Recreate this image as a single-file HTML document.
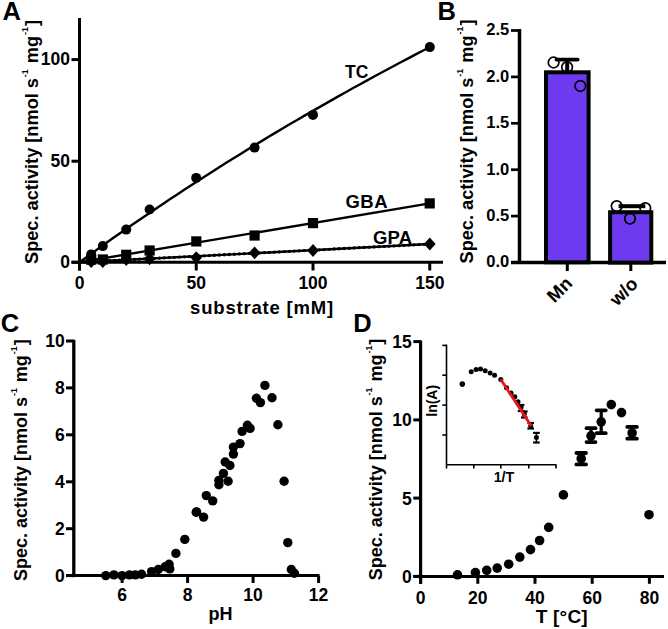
<!DOCTYPE html>
<html><head><meta charset="utf-8"><style>
html,body{margin:0;padding:0;background:#fff;width:668px;height:629px;overflow:hidden}
svg{display:block}
text{font-family:'Liberation Sans',sans-serif;font-weight:bold;fill:#000}
text.b{font-weight:bold;stroke:none}
</style></head><body>
<svg width="668" height="629" viewBox="0 0 668 629">
<rect width="668" height="629" fill="#fff"/>
<text class="b" x="2.6" y="19.5" style="font-size:25.5px">A</text>
<text transform="translate(38,142) rotate(-90)" text-anchor="middle" class="b" style="font-size:18.2px;letter-spacing:0px">Spec. activity [nmol s<tspan dy="-10" dx="0.9" style="font-size:9px">-1</tspan><tspan dy="10" dx="0.9"> mg</tspan><tspan dy="-10" dx="0.9" style="font-size:9px">-1</tspan><tspan dy="10" dx="0.9">]</tspan></text>
<line x1="79.5" y1="18" x2="79.5" y2="270.5" stroke="#000" stroke-width="3"/>
<line x1="71.5" y1="262.3" x2="443" y2="262.3" stroke="#000" stroke-width="3"/>
<line x1="71.5" y1="262.3" x2="79.5" y2="262.3" stroke="#000" stroke-width="3"/>
<text x="70" y="267.6" text-anchor="end" style="font-size:17.5px">0</text>
<line x1="71.5" y1="161.2" x2="79.5" y2="161.2" stroke="#000" stroke-width="3"/>
<text x="70" y="166.5" text-anchor="end" style="font-size:17.5px">50</text>
<line x1="71.5" y1="59.6" x2="79.5" y2="59.6" stroke="#000" stroke-width="3"/>
<text x="70" y="64.9" text-anchor="end" style="font-size:17.5px">100</text>
<line x1="79.5" y1="262.3" x2="79.5" y2="270.5" stroke="#000" stroke-width="3"/>
<text x="79.5" y="288.8" text-anchor="middle" style="font-size:17.5px">0</text>
<line x1="196.25" y1="262.3" x2="196.25" y2="270.5" stroke="#000" stroke-width="3"/>
<text x="196.2" y="288.8" text-anchor="middle" style="font-size:17.5px">50</text>
<line x1="313.0" y1="262.3" x2="313.0" y2="270.5" stroke="#000" stroke-width="3"/>
<text x="313.0" y="288.8" text-anchor="middle" style="font-size:17.5px">100</text>
<line x1="429.75" y1="262.3" x2="429.75" y2="270.5" stroke="#000" stroke-width="3"/>
<text x="429.8" y="288.8" text-anchor="middle" style="font-size:17.5px">150</text>
<text x="262" y="314" text-anchor="middle" style="font-size:18.5px;letter-spacing:0.8px">substrate [mM]</text>
<polyline points="79.5,262.3 86.5,257.2 93.5,252.1 100.5,247.1 107.5,242.1 114.5,237.1 121.5,232.2 128.5,227.3 135.5,222.5 142.5,217.7 149.6,212.9 156.6,208.2 163.6,203.5 170.6,198.8 177.6,194.2 184.6,189.6 191.6,185.0 198.6,180.4 205.6,175.9 212.6,171.5 219.6,167.0 226.6,162.6 233.6,158.3 240.6,153.9 247.6,149.6 254.6,145.3 261.6,141.1 268.6,136.8 275.6,132.6 282.6,128.5 289.6,124.3 296.7,120.2 303.7,116.1 310.7,112.1 317.7,108.1 324.7,104.1 331.7,100.1 338.7,96.1 345.7,92.2 352.7,88.3 359.7,84.5 366.7,80.6 373.7,76.8 380.7,73.0 387.7,69.3 394.7,65.5 401.7,61.8 408.7,58.1 415.7,54.4 422.7,50.8 429.8,47.2" fill="none" stroke="#000" stroke-width="2.4"/>
<line x1="79.5" y1="262.3" x2="429.75" y2="203.43" stroke="#000" stroke-width="2.4"/>
<line x1="79.5" y1="262.3" x2="429.75" y2="244.03" stroke="#000" stroke-width="2.4"/>
<line x1="79.5" y1="262.3" x2="429.75" y2="244.03" stroke="#000" stroke-width="3.3" stroke-linecap="round" stroke-dasharray="0 5"/>
<circle cx="91.2" cy="254.4" r="5" fill="#000"/>
<circle cx="102.8" cy="246.1" r="5" fill="#000"/>
<circle cx="126.2" cy="229.6" r="5" fill="#000"/>
<circle cx="149.6" cy="209.5" r="5" fill="#000"/>
<circle cx="196.2" cy="177.9" r="5" fill="#000"/>
<circle cx="254.6" cy="147.6" r="5" fill="#000"/>
<circle cx="313.0" cy="114.9" r="5" fill="#000"/>
<circle cx="429.8" cy="47.1" r="5" fill="#000"/>
<rect x="86.1" y="254.6" width="10.2" height="10.2" fill="#000"/>
<rect x="97.8" y="254.4" width="10.2" height="10.2" fill="#000"/>
<rect x="121.1" y="249.7" width="10.2" height="10.2" fill="#000"/>
<rect x="144.5" y="245.4" width="10.2" height="10.2" fill="#000"/>
<rect x="191.2" y="236.3" width="10.2" height="10.2" fill="#000"/>
<rect x="249.5" y="230.4" width="10.2" height="10.2" fill="#000"/>
<rect x="307.9" y="218.0" width="10.2" height="10.2" fill="#000"/>
<rect x="424.6" y="198.3" width="10.2" height="10.2" fill="#000"/>
<polygon points="91.2,255.3 97.0,261.7 91.2,268.1 85.4,261.7" fill="#000"/>
<polygon points="102.8,255.3 108.6,261.7 102.8,268.1 97.0,261.7" fill="#000"/>
<polygon points="126.2,253.1 132.0,259.5 126.2,265.9 120.4,259.5" fill="#000"/>
<polygon points="149.6,252.4 155.4,258.8 149.6,265.2 143.8,258.8" fill="#000"/>
<polygon points="196.2,251.2 202.1,257.6 196.2,264.0 190.4,257.6" fill="#000"/>
<polygon points="254.6,246.4 260.4,252.8 254.6,259.2 248.8,252.8" fill="#000"/>
<polygon points="313.0,244.1 318.8,250.5 313.0,256.9 307.2,250.5" fill="#000"/>
<polygon points="429.8,237.6 435.6,244.0 429.8,250.4 423.9,244.0" fill="#000"/>
<text x="345" y="77.5" style="font-size:17.5px;letter-spacing:0px">TC</text>
<text x="345.5" y="207.5" style="font-size:18.5px;letter-spacing:0.45px">GBA</text>
<text x="373" y="244" style="font-size:18.5px;letter-spacing:0.2px">GPA</text>
<text class="b" x="437.5" y="19.5" style="font-size:25.5px">B</text>
<text transform="translate(473,141.5) rotate(-90)" text-anchor="middle" class="b" style="font-size:18.2px;letter-spacing:0px">Spec. activity [nmol s<tspan dy="-10" dx="0.9" style="font-size:9px">-1</tspan><tspan dy="10" dx="0.9"> mg</tspan><tspan dy="-10" dx="0.9" style="font-size:9px">-1</tspan><tspan dy="10" dx="0.9">]</tspan></text>
<line x1="519.5" y1="29" x2="519.5" y2="262.5" stroke="#000" stroke-width="3.5"/>
<line x1="511" y1="262.5" x2="666" y2="262.5" stroke="#000" stroke-width="3.5"/>
<line x1="511" y1="262.5" x2="519.5" y2="262.5" stroke="#000" stroke-width="2.7"/>
<text x="509.2" y="267.4" text-anchor="end" style="font-size:16.5px">0.0</text>
<line x1="511" y1="216.1" x2="519.5" y2="216.1" stroke="#000" stroke-width="2.7"/>
<text x="509.2" y="221.0" text-anchor="end" style="font-size:16.5px">0.5</text>
<line x1="511" y1="169.7" x2="519.5" y2="169.7" stroke="#000" stroke-width="2.7"/>
<text x="509.2" y="174.6" text-anchor="end" style="font-size:16.5px">1.0</text>
<line x1="511" y1="123.3" x2="519.5" y2="123.3" stroke="#000" stroke-width="2.7"/>
<text x="509.2" y="128.2" text-anchor="end" style="font-size:16.5px">1.5</text>
<line x1="511" y1="76.9" x2="519.5" y2="76.9" stroke="#000" stroke-width="2.7"/>
<text x="509.2" y="81.8" text-anchor="end" style="font-size:16.5px">2.0</text>
<line x1="511" y1="30.5" x2="519.5" y2="30.5" stroke="#000" stroke-width="2.7"/>
<text x="509.2" y="35.4" text-anchor="end" style="font-size:16.5px">2.5</text>
<line x1="567.3" y1="262.5" x2="567.3" y2="271" stroke="#000" stroke-width="3"/>
<line x1="630.8" y1="262.5" x2="630.8" y2="271" stroke="#000" stroke-width="3"/>
<line x1="567.2" y1="60" x2="567.2" y2="72" stroke="#000" stroke-width="4"/>
<line x1="556.5" y1="59.6" x2="577.6" y2="59.6" stroke="#000" stroke-width="3.8" stroke-linecap="round"/>
<rect x="546" y="72.3" width="42.6" height="190" fill="#6d3af0" stroke="#000" stroke-width="4"/>
<circle cx="553.6" cy="62.5" r="5.3" fill="none" stroke="#000" stroke-width="1.7"/>
<circle cx="567.1" cy="67.2" r="5.3" fill="none" stroke="#000" stroke-width="1.7"/>
<circle cx="580.3" cy="86" r="5.3" fill="none" stroke="#000" stroke-width="1.7"/>
<line x1="618.6" y1="206.2" x2="645.3" y2="206.2" stroke="#000" stroke-width="4"/>
<rect x="610.1" y="212.2" width="41.2" height="50.4" fill="#6d3af0" stroke="#000" stroke-width="4"/>
<circle cx="616.7" cy="206.2" r="5.3" fill="none" stroke="#000" stroke-width="1.7"/>
<circle cx="645.3" cy="208.1" r="5.3" fill="none" stroke="#000" stroke-width="1.7"/>
<circle cx="630" cy="218.6" r="5.3" fill="none" stroke="#000" stroke-width="1.7"/>
<text transform="translate(573.5,284.5) rotate(-45)" text-anchor="end" style="font-size:18.5px">Mn</text>
<text transform="translate(639,285) rotate(-45)" text-anchor="end" style="font-size:18.5px">w/o</text>
<text class="b" x="0.8" y="332" style="font-size:25.5px">C</text>
<text transform="translate(27.2,460.2) rotate(-90)" text-anchor="middle" class="b" style="font-size:18.0px;letter-spacing:0px">Spec. activity [nmol s<tspan dy="-10" dx="0.9" style="font-size:9px">-1</tspan><tspan dy="10" dx="0.9"> mg</tspan><tspan dy="-10" dx="0.9" style="font-size:9px">-1</tspan><tspan dy="10" dx="0.9">]</tspan></text>
<line x1="73.8" y1="339.8" x2="73.8" y2="577.1" stroke="#000" stroke-width="3.3"/>
<line x1="66" y1="575.6" x2="319.5" y2="575.6" stroke="#000" stroke-width="3"/>
<line x1="66" y1="575.6" x2="73.8" y2="575.6" stroke="#000" stroke-width="3"/>
<text x="64.7" y="582.0" text-anchor="end" style="font-size:17.5px">0</text>
<line x1="66" y1="528.7" x2="73.8" y2="528.7" stroke="#000" stroke-width="3"/>
<text x="64.7" y="535.1" text-anchor="end" style="font-size:17.5px">2</text>
<line x1="66" y1="481.8" x2="73.8" y2="481.8" stroke="#000" stroke-width="3"/>
<text x="64.7" y="488.2" text-anchor="end" style="font-size:17.5px">4</text>
<line x1="66" y1="434.8" x2="73.8" y2="434.8" stroke="#000" stroke-width="3"/>
<text x="64.7" y="441.2" text-anchor="end" style="font-size:17.5px">6</text>
<line x1="66" y1="387.9" x2="73.8" y2="387.9" stroke="#000" stroke-width="3"/>
<text x="64.7" y="394.3" text-anchor="end" style="font-size:17.5px">8</text>
<line x1="66" y1="341.0" x2="73.8" y2="341.0" stroke="#000" stroke-width="3"/>
<text x="64.7" y="347.4" text-anchor="end" style="font-size:17.5px">10</text>
<line x1="122.1" y1="575.6" x2="122.1" y2="583" stroke="#000" stroke-width="3"/>
<text x="122.1" y="601" text-anchor="middle" style="font-size:17.5px">6</text>
<line x1="187.6" y1="575.6" x2="187.6" y2="583" stroke="#000" stroke-width="3"/>
<text x="187.6" y="601" text-anchor="middle" style="font-size:17.5px">8</text>
<line x1="253.1" y1="575.6" x2="253.1" y2="583" stroke="#000" stroke-width="3"/>
<text x="253.1" y="601" text-anchor="middle" style="font-size:17.5px">10</text>
<line x1="318.6" y1="575.6" x2="318.6" y2="583" stroke="#000" stroke-width="3"/>
<text x="318.6" y="601" text-anchor="middle" style="font-size:17.5px">12</text>
<text x="220.5" y="619.5" text-anchor="middle" style="font-size:18px">pH</text>
<circle cx="105.8" cy="575.6" r="4.7" fill="#000"/>
<circle cx="113.9" cy="574.9" r="4.7" fill="#000"/>
<circle cx="122" cy="575.6" r="4.7" fill="#000"/>
<circle cx="129.4" cy="574.9" r="4.7" fill="#000"/>
<circle cx="135.4" cy="574.9" r="4.7" fill="#000"/>
<circle cx="141.5" cy="574.3" r="4.7" fill="#000"/>
<circle cx="151.6" cy="571.6" r="4.7" fill="#000"/>
<circle cx="158.3" cy="569.5" r="4.7" fill="#000"/>
<circle cx="165.1" cy="566.8" r="4.7" fill="#000"/>
<circle cx="169.1" cy="564.2" r="4.7" fill="#000"/>
<circle cx="169.8" cy="568.9" r="4.7" fill="#000"/>
<circle cx="175.9" cy="553.4" r="4.7" fill="#000"/>
<circle cx="184.8" cy="539.4" r="4.7" fill="#000"/>
<circle cx="196.2" cy="512.3" r="4.7" fill="#000"/>
<circle cx="196.6" cy="511.9" r="4.7" fill="#000"/>
<circle cx="203.6" cy="517.1" r="4.7" fill="#000"/>
<circle cx="206.3" cy="495.6" r="4.7" fill="#000"/>
<circle cx="212.7" cy="500.9" r="4.7" fill="#000"/>
<circle cx="218.9" cy="480.4" r="4.7" fill="#000"/>
<circle cx="218.9" cy="484.8" r="4.7" fill="#000"/>
<circle cx="223.4" cy="473.4" r="4.7" fill="#000"/>
<circle cx="228.1" cy="481.3" r="4.7" fill="#000"/>
<circle cx="225.2" cy="462" r="4.7" fill="#000"/>
<circle cx="229.9" cy="465.5" r="4.7" fill="#000"/>
<circle cx="233.4" cy="447.1" r="4.7" fill="#000"/>
<circle cx="233.4" cy="454.1" r="4.7" fill="#000"/>
<circle cx="240" cy="443.6" r="4.7" fill="#000"/>
<circle cx="242.1" cy="431.4" r="4.7" fill="#000"/>
<circle cx="247.4" cy="425.3" r="4.7" fill="#000"/>
<circle cx="264.9" cy="385.4" r="4.7" fill="#000"/>
<circle cx="256.4" cy="398.2" r="4.7" fill="#000"/>
<circle cx="260.4" cy="402.6" r="4.7" fill="#000"/>
<circle cx="272" cy="397.7" r="4.7" fill="#000"/>
<circle cx="277.9" cy="424.7" r="4.7" fill="#000"/>
<circle cx="250.1" cy="428.4" r="4.7" fill="#000"/>
<circle cx="284.1" cy="481.3" r="4.7" fill="#000"/>
<circle cx="287.8" cy="542.6" r="4.7" fill="#000"/>
<circle cx="291.3" cy="569.5" r="4.7" fill="#000"/>
<circle cx="294.4" cy="573.2" r="4.7" fill="#000"/>
<text class="b" x="353.2" y="332.3" style="font-size:25.5px">D</text>
<text transform="translate(382,459.5) rotate(-90)" text-anchor="middle" class="b" style="font-size:18.0px;letter-spacing:0px">Spec. activity [nmol s<tspan dy="-10" dx="0.9" style="font-size:9px">-1</tspan><tspan dy="10" dx="0.9"> mg</tspan><tspan dy="-10" dx="0.9" style="font-size:9px">-1</tspan><tspan dy="10" dx="0.9">]</tspan></text>
<line x1="420.6" y1="340.5" x2="420.6" y2="583.8" stroke="#000" stroke-width="3.2"/>
<line x1="413.3" y1="576.4" x2="664" y2="576.4" stroke="#000" stroke-width="3"/>
<line x1="413.3" y1="576.4" x2="420.6" y2="576.4" stroke="#000" stroke-width="3"/>
<text x="411.7" y="582.8" text-anchor="end" style="font-size:17.5px">0</text>
<line x1="413.3" y1="498.1" x2="420.6" y2="498.1" stroke="#000" stroke-width="3"/>
<text x="411.7" y="504.5" text-anchor="end" style="font-size:17.5px">5</text>
<line x1="413.3" y1="419.9" x2="420.6" y2="419.9" stroke="#000" stroke-width="3"/>
<text x="411.7" y="426.3" text-anchor="end" style="font-size:17.5px">10</text>
<line x1="413.3" y1="341.6" x2="420.6" y2="341.6" stroke="#000" stroke-width="3"/>
<text x="411.7" y="348.0" text-anchor="end" style="font-size:17.5px">15</text>
<line x1="420.6" y1="576.4" x2="420.6" y2="583.8" stroke="#000" stroke-width="3"/>
<text x="420.6" y="603.8" text-anchor="middle" style="font-size:17.5px">0</text>
<line x1="477.8" y1="576.4" x2="477.8" y2="583.8" stroke="#000" stroke-width="3"/>
<text x="477.8" y="603.8" text-anchor="middle" style="font-size:17.5px">20</text>
<line x1="535.0" y1="576.4" x2="535.0" y2="583.8" stroke="#000" stroke-width="3"/>
<text x="535.0" y="603.8" text-anchor="middle" style="font-size:17.5px">40</text>
<line x1="592.2" y1="576.4" x2="592.2" y2="583.8" stroke="#000" stroke-width="3"/>
<text x="592.2" y="603.8" text-anchor="middle" style="font-size:17.5px">60</text>
<line x1="649.4" y1="576.4" x2="649.4" y2="583.8" stroke="#000" stroke-width="3"/>
<text x="649.4" y="603.8" text-anchor="middle" style="font-size:17.5px">80</text>
<text x="561.8" y="623" text-anchor="middle" style="font-size:19px;letter-spacing:0.2px">T [°C]</text>
<circle cx="457.5" cy="574.8" r="4.8" fill="#000"/>
<circle cx="475.4" cy="572.6" r="4.8" fill="#000"/>
<circle cx="486.7" cy="570.3" r="4.8" fill="#000"/>
<circle cx="497.2" cy="568.1" r="4.8" fill="#000"/>
<circle cx="508.7" cy="564.2" r="4.8" fill="#000"/>
<circle cx="519.8" cy="557.1" r="4.8" fill="#000"/>
<circle cx="530.5" cy="549.6" r="4.8" fill="#000"/>
<circle cx="539.6" cy="540.5" r="4.8" fill="#000"/>
<circle cx="548.7" cy="527.4" r="4.8" fill="#000"/>
<circle cx="563.4" cy="494.9" r="4.8" fill="#000"/>
<circle cx="581.2" cy="458.7" r="4.8" fill="#000"/>
<circle cx="591" cy="435.8" r="4.8" fill="#000"/>
<circle cx="601.2" cy="421.8" r="4.8" fill="#000"/>
<circle cx="611.3" cy="404.6" r="4.8" fill="#000"/>
<circle cx="621.5" cy="412.6" r="4.8" fill="#000"/>
<circle cx="632.1" cy="433" r="4.8" fill="#000"/>
<circle cx="649" cy="514.7" r="4.8" fill="#000"/>
<line x1="581.2" y1="453" x2="581.2" y2="464.4" stroke="#000" stroke-width="3.2"/>
<line x1="576.4000000000001" y1="453" x2="586.0" y2="453" stroke="#000" stroke-width="3.8" stroke-linecap="round"/>
<line x1="576.4000000000001" y1="464.4" x2="586.0" y2="464.4" stroke="#000" stroke-width="3.8" stroke-linecap="round"/>
<line x1="591" y1="428.2" x2="591" y2="442.1" stroke="#000" stroke-width="3.2"/>
<line x1="586.5" y1="428.2" x2="595.5" y2="428.2" stroke="#000" stroke-width="3.8" stroke-linecap="round"/>
<line x1="586.5" y1="442.1" x2="595.5" y2="442.1" stroke="#000" stroke-width="3.8" stroke-linecap="round"/>
<line x1="601.2" y1="410.3" x2="601.2" y2="433.2" stroke="#000" stroke-width="3.2"/>
<line x1="596.7" y1="410.3" x2="605.7" y2="410.3" stroke="#000" stroke-width="3.8" stroke-linecap="round"/>
<line x1="596.7" y1="433.2" x2="605.7" y2="433.2" stroke="#000" stroke-width="3.8" stroke-linecap="round"/>
<line x1="632.1" y1="426.9" x2="632.1" y2="438.7" stroke="#000" stroke-width="3.2"/>
<line x1="627.3000000000001" y1="426.9" x2="636.9" y2="426.9" stroke="#000" stroke-width="3.8" stroke-linecap="round"/>
<line x1="627.3000000000001" y1="438.7" x2="636.9" y2="438.7" stroke="#000" stroke-width="3.8" stroke-linecap="round"/>
<line x1="446.5" y1="344.6" x2="446.5" y2="464.7" stroke="#000" stroke-width="1.6"/>
<line x1="446.5" y1="464.7" x2="556.5" y2="464.7" stroke="#000" stroke-width="1.6"/>
<line x1="442.3" y1="345.4" x2="446.5" y2="345.4" stroke="#000" stroke-width="1.6"/>
<line x1="442.3" y1="375.2" x2="446.5" y2="375.2" stroke="#000" stroke-width="1.6"/>
<line x1="442.3" y1="405.1" x2="446.5" y2="405.1" stroke="#000" stroke-width="1.6"/>
<line x1="442.3" y1="435.0" x2="446.5" y2="435.0" stroke="#000" stroke-width="1.6"/>
<line x1="446.5" y1="464.7" x2="446.5" y2="468.5" stroke="#000" stroke-width="1.6"/>
<line x1="473.8" y1="464.7" x2="473.8" y2="468.5" stroke="#000" stroke-width="1.6"/>
<line x1="500.8" y1="464.7" x2="500.8" y2="468.5" stroke="#000" stroke-width="1.6"/>
<line x1="528.8" y1="464.7" x2="528.8" y2="468.5" stroke="#000" stroke-width="1.6"/>
<line x1="556" y1="464.7" x2="556" y2="468.5" stroke="#000" stroke-width="1.6"/>
<text x="504" y="482.3" text-anchor="middle" style="font-size:14.3px">1/T</text>
<text transform="translate(437.2,400.8) rotate(-90)" text-anchor="middle" style="font-size:14px">ln(A)</text>
<circle cx="462.3" cy="384.1" r="2.8" fill="#000"/>
<circle cx="471.2" cy="371.8" r="2.5" fill="#000"/>
<circle cx="476.1" cy="369.4" r="2.5" fill="#000"/>
<circle cx="480.5" cy="368.9" r="2.5" fill="#000"/>
<circle cx="485.2" cy="370.7" r="2.5" fill="#000"/>
<circle cx="490.1" cy="372.9" r="2.5" fill="#000"/>
<circle cx="494.6" cy="375.2" r="2.5" fill="#000"/>
<circle cx="500.8" cy="379.5" r="2.5" fill="#000"/>
<circle cx="506.5" cy="387.8" r="2.5" fill="#000"/>
<circle cx="511" cy="392.9" r="2.5" fill="#000"/>
<circle cx="514.8" cy="396.7" r="2.5" fill="#000"/>
<circle cx="518" cy="401.8" r="2.5" fill="#000"/>
<circle cx="521.1" cy="407.5" r="2.5" fill="#000"/>
<circle cx="524.3" cy="413.9" r="2.5" fill="#000"/>
<circle cx="530.7" cy="425.9" r="2.5" fill="#000"/>
<circle cx="536.4" cy="437.4" r="2.5" fill="#000"/>
<line x1="521.1" y1="405" x2="521.1" y2="411" stroke="#000" stroke-width="1.5"/>
<line x1="517.8000000000001" y1="405" x2="524.4" y2="405" stroke="#000" stroke-width="2.2"/>
<line x1="517.8000000000001" y1="411" x2="524.4" y2="411" stroke="#000" stroke-width="2.2"/>
<line x1="524.3" y1="411.5" x2="524.3" y2="417.5" stroke="#000" stroke-width="1.5"/>
<line x1="521.0" y1="411.5" x2="527.5999999999999" y2="411.5" stroke="#000" stroke-width="2.2"/>
<line x1="521.0" y1="417.5" x2="527.5999999999999" y2="417.5" stroke="#000" stroke-width="2.2"/>
<line x1="530.7" y1="423" x2="530.7" y2="428.5" stroke="#000" stroke-width="1.5"/>
<line x1="527.4000000000001" y1="423" x2="534.0" y2="423" stroke="#000" stroke-width="2.2"/>
<line x1="527.4000000000001" y1="428.5" x2="534.0" y2="428.5" stroke="#000" stroke-width="2.2"/>
<line x1="536.4" y1="432.9" x2="536.4" y2="442.5" stroke="#000" stroke-width="1.5"/>
<line x1="533.1" y1="432.9" x2="539.6999999999999" y2="432.9" stroke="#000" stroke-width="2.2"/>
<line x1="533.1" y1="442.5" x2="539.6999999999999" y2="442.5" stroke="#000" stroke-width="2.2"/>
<line x1="500.8" y1="379.5" x2="531.3" y2="425.9" stroke="#f0101a" stroke-width="2.8"/>
</svg></body></html>
